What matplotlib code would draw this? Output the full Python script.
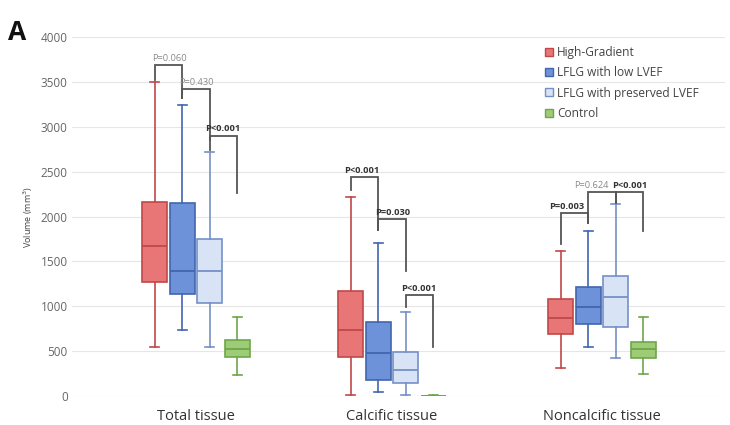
import matplotlib.pyplot as plt
from matplotlib.lines import Line2D

plt.rcParams['font.family'] = ['Open Sans', 'DejaVu Sans']

# groups and tissue types
groups = ['High-Gradient', 'LFLG with low LVEF', 'LFLG with preserved LVEF', 'Control']
tissues = ['Total tissue', 'Calcific tissue', 'Noncalcific tissue']

# box stats per tissue, one value per group (mm^3)
whislo = [[545, 735, 545, 230],
          [10, 45, 10, 0],
          [310, 545, 420, 245]]
q1 = [[1270, 1140, 1040, 430],
      [435, 180, 145, 0],
      [690, 800, 770, 420]]
med = [[1670, 1395, 1395, 520],
       [735, 480, 290, 0],
       [870, 990, 1100, 520]]
q3 = [[2160, 2150, 1750, 620],
      [1170, 825, 490, 5],
      [1080, 1215, 1340, 600]]
whishi = [[3500, 3240, 2720, 880],
          [2215, 1700, 935, 10],
          [1615, 1840, 2140, 880]]

# significance brackets: tissue, box a, box b, top, left end, right end, label, bold
brackets = [
    (0, 0, 1, 3690, 3520, 3320, 'P=0.060', False),
    (0, 1, 2, 3420, 3320, 2850, 'P=0.430', False),
    (0, 2, 3, 2900, 2740, 2260, 'P<0.001', True),
    (1, 0, 1, 2440, 2300, 1850, 'P<0.001', True),
    (1, 1, 2, 1970, 1850, 1390, 'P=0.030', True),
    (1, 2, 3, 1125, 990, 545, 'P<0.001', True),
    (2, 0, 1, 2040, 1690, 1930, 'P=0.003', True),
    (2, 1, 2, 2270, 1930, 2150, 'P=0.624', False),
    (2, 2, 3, 2270, 2150, 1840, 'P<0.001', True),
]
# horizontal nudge of each p-value label from the bracket's left leg (px)
label_dx = [0, 0, -2, -4, 0, -2, -9, -11, -1]

fills = ['#E87676', '#6E92D9', '#D8E3F6', '#9DCB76']
edges = ['#C24848', '#4266AE', '#7590C8', '#6EA64A']

centers = [196, 392, 602]
step = 27.5


def xpos(t, g):
    return centers[t] + (g - 1.5) * step


fig = plt.figure(figsize=(7.3, 4.25), dpi=100)
ax = fig.add_axes([72 / 730, 1 - 396 / 425, 653 / 730, 359 / 425])

for g in range(4):
    stats = []
    pos = []
    for t in range(3):
        stats.append({'whislo': whislo[t][g], 'q1': q1[t][g], 'med': med[t][g],
                      'q3': q3[t][g], 'whishi': whishi[t][g], 'fliers': []})
        pos.append(xpos(t, g))
    ax.bxp(stats, positions=pos, widths=25, patch_artist=True, showfliers=False,
           capwidths=9, manage_ticks=False,
           boxprops=dict(facecolor=fills[g], edgecolor=edges[g], linewidth=1.2),
           medianprops=dict(color=edges[g], linewidth=1.3),
           whiskerprops=dict(color=edges[g], linewidth=1.2),
           capprops=dict(color=edges[g], linewidth=1.2))

for (t, a, b, top, ya, yb, label, bold), dx in zip(brackets, label_dx):
    xa, xb = xpos(t, a), xpos(t, b)
    ax.plot([xa, xa, xb, xb], [ya, top, top, yb], color='#555555', lw=1.3,
            solid_joinstyle='miter', zorder=3)
    ax.text(xa - 3 + dx, top + 25, label, ha='left', va='bottom',
            fontsize=6.7, fontweight='bold' if bold else 'normal',
            color='#333333' if bold else '#8a8a8a')

ax.set_xlim(72, 725)
ax.set_ylim(0, 4000)
ax.set_yticks(range(0, 4001, 500))
ax.set_xticks(centers)
ax.set_xticklabels(tissues, fontsize=10.5, color='#333333')
ax.tick_params(axis='y', length=0, labelsize=8.5, labelcolor='#666666', pad=3)
ax.tick_params(axis='x', length=0, pad=9)
ax.grid(axis='y', color='#e6e6e6', lw=0.8)
ax.set_axisbelow(True)
for s in ax.spines.values():
    s.set_visible(False)
ax.set_ylabel('Volume (mm$^3$)', fontsize=6.5, color='#444444', labelpad=4)

handles = [Line2D([], [], ls='none', marker='s', markersize=5.5,
                  markerfacecolor=fills[g], markeredgecolor=edges[g], markeredgewidth=1)
           for g in range(4)]
leg = fig.legend(handles, groups, loc='upper left', bbox_to_anchor=(539 / 730, 1 - 41 / 425),
                 frameon=False, fontsize=8.6, handlelength=0.8, handletextpad=0.3,
                 labelspacing=0.62, borderaxespad=0)
for txt in leg.get_texts():
    txt.set_color('#444444')

fig.text(8 / 730, 1 - 40 / 425, 'A', fontsize=19, fontweight='bold', color='#111111')

fig.savefig('out.png', dpi=100)
